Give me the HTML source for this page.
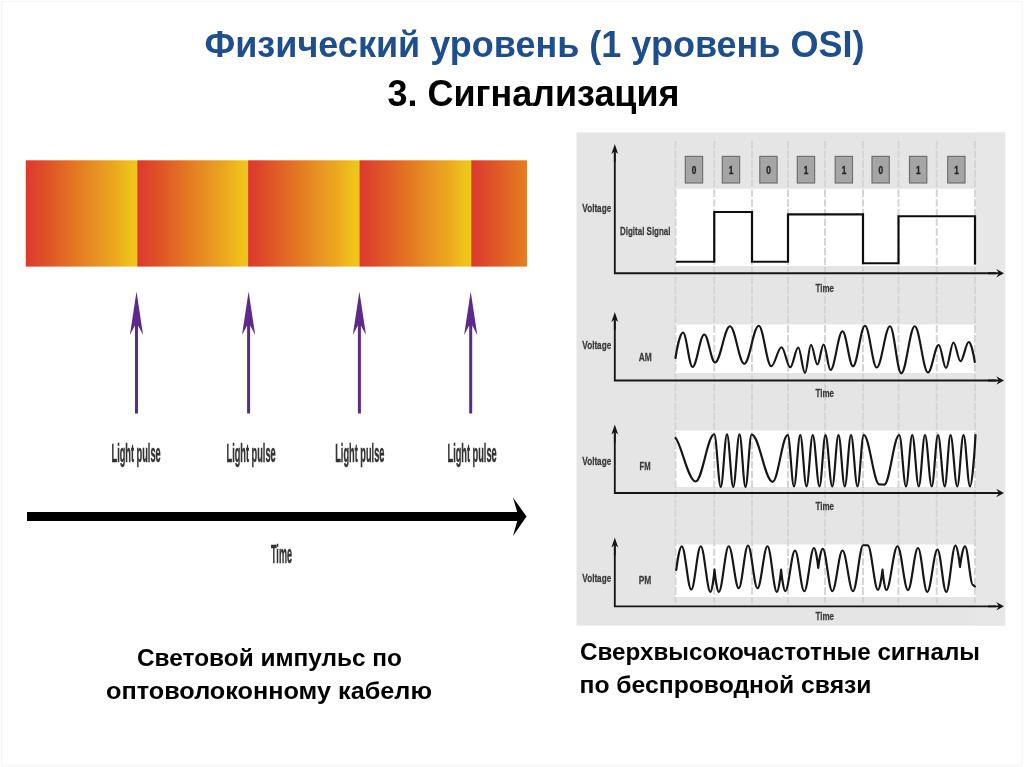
<!DOCTYPE html>
<html lang="ru">
<head>
<meta charset="utf-8">
<title>Физический уровень (1 уровень OSI) — 3. Сигнализация</title>
<style>
html,body{margin:0;padding:0;background:#fff;}
body{width:1024px;height:767px;position:relative;overflow:hidden;font-family:"Liberation Sans",sans-serif;}
</style>
</head>
<body>
<svg width="1024" height="767" viewBox="0 0 1024 767" style="position:absolute;left:0;top:0;font-family:'Liberation Sans',sans-serif;font-weight:bold">
<defs>
<linearGradient id="g" x1="0" x2="1" y1="0" y2="0"><stop offset="0" stop-color="#dd3a2b"/><stop offset="0.09" stop-color="#dd442a"/><stop offset="0.5" stop-color="#e57f22"/><stop offset="0.78" stop-color="#eba61f"/><stop offset="0.94" stop-color="#efc21b"/><stop offset="1" stop-color="#f0c71a"/></linearGradient>
<linearGradient id="g2" x1="0" x2="1" y1="0" y2="0"><stop offset="0" stop-color="#dd3a2b"/><stop offset="0.18" stop-color="#dd442a"/><stop offset="1" stop-color="#e57f22"/></linearGradient>
<path id="pa" d="M0 0L6.6 43.5L1.5 34V122H-1.5V34L-6.6 43.5Z" fill="#5b2a8a"/>
<path id="ya" d="M0 0L3.4 10.2L0.9 8.2V18H-0.9V8.2L-3.4 10.2Z" fill="#181818"/>
<path id="xa" d="M0 0L-7.8 -4.3L-5.6 -0.92H-16V0.92H-5.6L-7.8 4.3Z" fill="#181818"/>
<filter id="bl" x="0" y="0" width="1024" height="767" filterUnits="userSpaceOnUse"><feGaussianBlur stdDeviation="0.45"/></filter>
</defs>
<rect x="1.6" y="1.6" width="1020.4" height="763.8" fill="none" stroke="#f6f6f6" stroke-width="1.4"/>
<g filter="url(#bl)">
<rect x="25.75" y="160.3" width="111.85" height="106.3" fill="url(#g)"/>
<rect x="137.3" y="160.3" width="111.1" height="106.3" fill="url(#g)"/>
<rect x="248.1" y="160.3" width="111.7" height="106.3" fill="url(#g)"/>
<rect x="359.5" y="160.3" width="112.05" height="106.3" fill="url(#g)"/>
<rect x="471.25" y="160.3" width="55.75" height="106.3" fill="url(#g2)"/>
<use href="#pa" x="136.5" y="291.5"/>
<use href="#pa" x="248.6" y="291.5"/>
<use href="#pa" x="359.4" y="291.5"/>
<use href="#pa" x="470.7" y="291.5"/>
<text x="111.5" y="461.6" font-size="26.6" fill="#333" stroke="#333" stroke-width="0.5" textLength="49.2" lengthAdjust="spacingAndGlyphs">Light pulse</text>
<text x="226.5" y="461.6" font-size="26.6" fill="#333" stroke="#333" stroke-width="0.5" textLength="49.2" lengthAdjust="spacingAndGlyphs">Light pulse</text>
<text x="335.2" y="461.6" font-size="26.6" fill="#333" stroke="#333" stroke-width="0.5" textLength="49.2" lengthAdjust="spacingAndGlyphs">Light pulse</text>
<text x="447.5" y="461.6" font-size="26.6" fill="#333" stroke="#333" stroke-width="0.5" textLength="49.2" lengthAdjust="spacingAndGlyphs">Light pulse</text>
<rect x="27" y="512" width="492" height="9" fill="#000"/>
<path d="M526.5 516.4L513 497.5L518.5 516.4L513 536Z" fill="#000"/>
<text x="271" y="563.2" font-size="26.6" fill="#333" stroke="#333" stroke-width="0.5" textLength="21" lengthAdjust="spacingAndGlyphs">Time</text>
<rect x="576.5" y="132.5" width="428.7" height="493" fill="#e5e5e5"/>
<rect x="975.5" y="132.5" width="29.7" height="493" fill="#e7e7e7"/>
<rect x="675.5" y="188.75" width="300" height="77.25" fill="#fff"/>
<rect x="675.5" y="324.5" width="300" height="48.5" fill="#fff"/>
<rect x="675.5" y="430.6" width="300" height="56.4" fill="#fff"/>
<rect x="675.5" y="544.5" width="300" height="52.5" fill="#fff"/>
<path d="M675.5 141V603" stroke="#d5d5d5" stroke-width="2" stroke-dasharray="7.5 2.2" fill="none"/>
<path d="M714.25 141V603" stroke="#d5d5d5" stroke-width="2" stroke-dasharray="7.5 2.2" fill="none"/>
<path d="M752 141V603" stroke="#d5d5d5" stroke-width="2" stroke-dasharray="7.5 2.2" fill="none"/>
<path d="M788 141V603" stroke="#d5d5d5" stroke-width="2" stroke-dasharray="7.5 2.2" fill="none"/>
<path d="M825 141V603" stroke="#d5d5d5" stroke-width="2" stroke-dasharray="7.5 2.2" fill="none"/>
<path d="M863 141V603" stroke="#d5d5d5" stroke-width="2" stroke-dasharray="7.5 2.2" fill="none"/>
<path d="M898.5 141V603" stroke="#d5d5d5" stroke-width="2" stroke-dasharray="7.5 2.2" fill="none"/>
<path d="M936.75 141V603" stroke="#d5d5d5" stroke-width="2" stroke-dasharray="7.5 2.2" fill="none"/>
<path d="M975 141V603" stroke="#d5d5d5" stroke-width="2" stroke-dasharray="7.5 2.2" fill="none"/>
<rect x="685.3" y="156.4" width="17.3" height="26.6" fill="#a5a5a5" stroke="#707070" stroke-width="1.2"/>
<text x="691.75" y="173.6" font-size="10" fill="#262626" stroke="#262626" stroke-width="0.35" textLength="4.6" lengthAdjust="spacingAndGlyphs">0</text>
<rect x="722.3" y="156.4" width="17.3" height="26.6" fill="#a5a5a5" stroke="#707070" stroke-width="1.2"/>
<text x="728.75" y="173.6" font-size="10" fill="#262626" stroke="#262626" stroke-width="0.35" textLength="4.6" lengthAdjust="spacingAndGlyphs">1</text>
<rect x="759.8" y="156.4" width="17.3" height="26.6" fill="#a5a5a5" stroke="#707070" stroke-width="1.2"/>
<text x="766.25" y="173.6" font-size="10" fill="#262626" stroke="#262626" stroke-width="0.35" textLength="4.6" lengthAdjust="spacingAndGlyphs">0</text>
<rect x="797.3" y="156.4" width="17.3" height="26.6" fill="#a5a5a5" stroke="#707070" stroke-width="1.2"/>
<text x="803.75" y="173.6" font-size="10" fill="#262626" stroke="#262626" stroke-width="0.35" textLength="4.6" lengthAdjust="spacingAndGlyphs">1</text>
<rect x="835.2" y="156.4" width="17.3" height="26.6" fill="#a5a5a5" stroke="#707070" stroke-width="1.2"/>
<text x="841.65" y="173.6" font-size="10" fill="#262626" stroke="#262626" stroke-width="0.35" textLength="4.6" lengthAdjust="spacingAndGlyphs">1</text>
<rect x="872" y="156.4" width="17.3" height="26.6" fill="#a5a5a5" stroke="#707070" stroke-width="1.2"/>
<text x="878.45" y="173.6" font-size="10" fill="#262626" stroke="#262626" stroke-width="0.35" textLength="4.6" lengthAdjust="spacingAndGlyphs">0</text>
<rect x="909.5" y="156.4" width="17.3" height="26.6" fill="#a5a5a5" stroke="#707070" stroke-width="1.2"/>
<text x="915.95" y="173.6" font-size="10" fill="#262626" stroke="#262626" stroke-width="0.35" textLength="4.6" lengthAdjust="spacingAndGlyphs">1</text>
<rect x="947.7" y="156.4" width="17.3" height="26.6" fill="#a5a5a5" stroke="#707070" stroke-width="1.2"/>
<text x="954.15" y="173.6" font-size="10" fill="#262626" stroke="#262626" stroke-width="0.35" textLength="4.6" lengthAdjust="spacingAndGlyphs">1</text>
<use href="#ya" x="614.8" y="143.9"/>
<path d="M614.8 152.5V273.25H996" stroke="#181818" stroke-width="1.85" fill="none"/>
<use href="#xa" x="1004" y="273.25"/>
<use href="#ya" x="614.8" y="311.9"/>
<path d="M614.8 320.5V380.5H996" stroke="#181818" stroke-width="1.85" fill="none"/>
<use href="#xa" x="1004" y="380.5"/>
<use href="#ya" x="614.8" y="424.4"/>
<path d="M614.8 433V493H996" stroke="#181818" stroke-width="1.85" fill="none"/>
<use href="#xa" x="1004" y="493"/>
<use href="#ya" x="614.8" y="537.4"/>
<path d="M614.8 546V606.3H996" stroke="#181818" stroke-width="1.85" fill="none"/>
<use href="#xa" x="1004" y="606.3"/>
<text x="582.3" y="212.26" font-size="11.2" fill="#3c3c3c" stroke="#3c3c3c" stroke-width="0.28" textLength="28.9" lengthAdjust="spacingAndGlyphs">Voltage</text>
<text x="582.3" y="349.26" font-size="11.2" fill="#3c3c3c" stroke="#3c3c3c" stroke-width="0.28" textLength="28.9" lengthAdjust="spacingAndGlyphs">Voltage</text>
<text x="582.3" y="464.76" font-size="11.2" fill="#3c3c3c" stroke="#3c3c3c" stroke-width="0.28" textLength="28.9" lengthAdjust="spacingAndGlyphs">Voltage</text>
<text x="582.3" y="582.26" font-size="11.2" fill="#3c3c3c" stroke="#3c3c3c" stroke-width="0.28" textLength="28.9" lengthAdjust="spacingAndGlyphs">Voltage</text>
<text x="620" y="235.26" font-size="11.2" fill="#3c3c3c" stroke="#3c3c3c" stroke-width="0.28" textLength="50.5" lengthAdjust="spacingAndGlyphs">Digital Signal</text>
<text x="638.75" y="361.01" font-size="11.2" fill="#3c3c3c" stroke="#3c3c3c" stroke-width="0.28" textLength="13" lengthAdjust="spacingAndGlyphs">AM</text>
<text x="639.5" y="469.76" font-size="11.2" fill="#3c3c3c" stroke="#3c3c3c" stroke-width="0.28" textLength="11" lengthAdjust="spacingAndGlyphs">FM</text>
<text x="638.75" y="584.01" font-size="11.2" fill="#3c3c3c" stroke="#3c3c3c" stroke-width="0.28" textLength="12.5" lengthAdjust="spacingAndGlyphs">PM</text>
<text x="815.5" y="291.51" font-size="11.2" fill="#3c3c3c" stroke="#3c3c3c" stroke-width="0.28" textLength="18.5" lengthAdjust="spacingAndGlyphs">Time</text>
<text x="815.5" y="397.26" font-size="11.2" fill="#3c3c3c" stroke="#3c3c3c" stroke-width="0.28" textLength="18.5" lengthAdjust="spacingAndGlyphs">Time</text>
<text x="815.5" y="509.51" font-size="11.2" fill="#3c3c3c" stroke="#3c3c3c" stroke-width="0.28" textLength="18.5" lengthAdjust="spacingAndGlyphs">Time</text>
<text x="815.5" y="620.26" font-size="11.2" fill="#3c3c3c" stroke="#3c3c3c" stroke-width="0.28" textLength="18.5" lengthAdjust="spacingAndGlyphs">Time</text>
<path d="M676 261.75H714.25V212H752V261.75H788V214.4H863V263.25H898.5V216.25H975V264.5" stroke="#111" stroke-width="2.2" fill="none" stroke-linejoin="miter"/>
<path d="M675.5 358C676.85 348.82 680.27 332.5 683 332.5C686.46 332.5 689.04 367 692.5 367C696.78 367 699.97 334.5 704.25 334.5C708.17 334.5 711.08 362.5 715 362.5C720.46 362.5 724.54 326.25 730 326.25C735.19 326.25 739.06 363.75 744.25 363.75C749.53 363.75 753.47 325.75 758.75 325.75C763.3 325.75 766.7 366.25 771.25 366.25C774.98 366.25 777.77 347.25 781.5 347.25C784.69 347.25 787.06 367.25 790.25 367.25C793.16 367.25 795.34 347.5 798.25 347.5C800.71 347.5 802.54 373 805 373C807.19 373 808.81 344.75 811 344.75C813.33 344.75 815.07 364.5 817.4 364.5C819.66 364.5 821.34 344.5 823.6 344.5C826.11 344.5 827.99 370 830.5 370C834.87 370 838.13 331.25 842.5 331.25C846.32 331.25 849.18 366.25 853 366.25C857.37 366.25 860.63 325.75 865 325.75C869.28 325.75 872.47 367.5 876.75 367.5C881.58 367.5 885.17 326.25 890 326.25C894.1 326.25 897.15 373.25 901.25 373.25C906.17 373.25 909.83 326.25 914.75 326.25C919.58 326.25 923.17 372.5 928 372.5C931.92 372.5 934.83 345 938.75 345C941.39 345 943.36 368 946 368C948.73 368 950.77 342.5 953.5 342.5C956.05 342.5 957.95 361.25 960.5 361.25C963.5 361.25 965.75 342 968.75 342C970.94 342 973.67 354.8 974.75 362" stroke="#141414" stroke-width="2.15" fill="none" stroke-linejoin="round" stroke-linecap="round"/>
<path d="M675.6 438C681.2 443.65 688.32 481.5 695.6 481.5C702.39 481.5 707.46 434.25 714.25 434.25C716.62 434.25 718.38 487 720.75 487C723.03 487 724.72 434.25 727 434.25C729.28 434.25 730.97 487 733.25 487C735.53 487 737.22 434.25 739.5 434.25C741.69 434.25 743.31 487 745.5 487C747.72 487 749.38 434.5 751.6 434.5C759.25 434.5 764.95 481.8 772.6 481.8C778.12 481.8 782.23 435 787.75 435C790.03 435 791.72 486.5 794 486.5C796.28 486.5 797.97 435 800.25 435C802.53 435 804.22 486.5 806.5 486.5C808.78 486.5 810.47 435 812.75 435C815.21 435 817.04 486.5 819.5 486.5C821.69 486.5 823.31 435 825.5 435C827.96 435 829.79 486.5 832.25 486.5C834.53 486.5 836.22 435 838.5 435C840.78 435 842.47 486.5 844.75 486.5C847.03 486.5 848.72 435 851 435C853.37 435 855.13 486.5 857.5 486.5C859.78 486.5 861.47 435 863.75 435C869.41 435 873.64 484.3 879.3 484.3C881.12 484.3 882.48 484.6 884.3 484.6C889.74 484.6 893.81 435 899.25 435C901.71 435 903.54 486.5 906 486.5C908.28 486.5 909.97 435 912.25 435C914.62 435 916.38 486.5 918.75 486.5C921.03 486.5 922.72 435 925 435C927.46 435 929.29 486.5 931.75 486.5C934.03 486.5 935.72 435 938 435C940.46 435 942.29 486.5 944.75 486.5C946.84 486.5 948.41 435 950.5 435C952.96 435 954.79 486.5 957.25 486.5C959.53 486.5 961.22 435 963.5 435C965.87 435 967.63 486.5 970 486.5C972 486.5 974.51 453.54 975.5 435" stroke="#141414" stroke-width="2.15" fill="none" stroke-linejoin="round" stroke-linecap="round"/>
<path d="M676.25 570C677.24 561.45 679.75 546.25 681.75 546.25C685.21 546.25 687.79 589.5 691.25 589.5C694.71 589.5 697.29 546.25 700.75 546.25C704.3 546.25 706.95 592 710.5 592C711.96 592 713.78 577.6 714.5 569.5C715.26 577.6 717.2 592 718.75 592C722.39 592 725.11 546.25 728.75 546.25C732.39 546.25 735.11 588.25 738.75 588.25C742.12 588.25 744.63 545.5 748 545.5C751.46 545.5 754.04 588.25 757.5 588.25C761.14 588.25 763.86 546.25 767.5 546.25C770.92 546.25 773.48 592 776.9 592C778.43 592 780.34 577.6 781.1 569.5C781.85 577.33 783.74 591.25 785.25 591.25C788.8 591.25 791.45 550.5 795 550.5C798.37 550.5 800.88 591.25 804.25 591.25C807.8 591.25 810.45 548 814 548C815.55 548 817.49 560.8 818.25 568C819.06 561.07 821.11 548.75 822.75 548.75C826.21 548.75 828.79 591.25 832.25 591.25C835.98 591.25 838.77 550.5 842.5 550.5C846.32 550.5 849.18 591.25 853 591.25C856.71 591.25 859.49 545.2 863.2 545.2C864.88 545.2 866.12 545.4 867.8 545.4C871.51 545.4 874.29 590 878 590C879.64 590 881.69 576.88 882.5 569.5C883.17 576.88 884.88 590 886.25 590C890.35 590 893.4 546.25 897.5 546.25C901.32 546.25 904.18 590 908 590C911.64 590 914.36 548 918 548C921.37 548 923.88 592 927.25 592C930.98 592 933.77 549.5 937.5 549.5C940.69 549.5 943.06 592 946.25 592C949.62 592 952.13 545.5 955.5 545.5C957.14 545.5 959.19 559.26 960 567C960.9 559.53 963.18 546.25 965 546.25C967.91 546.25 970.09 585 973 585C973.73 585 974.27 586.5 975 586.5" stroke="#141414" stroke-width="2.15" fill="none" stroke-linejoin="round" stroke-linecap="round"/>
</g>
<text x="204.5" y="56.6" font-size="36.5" fill="#1f4e8c" textLength="660" lengthAdjust="spacingAndGlyphs">Физический уровень (1 уровень OSI)</text>
<text x="387.5" y="105.8" font-size="36.5" fill="#000" textLength="292" lengthAdjust="spacingAndGlyphs">3. Сигнализация</text>
<text x="137" y="665.5" font-size="24.6" fill="#000" textLength="265" lengthAdjust="spacingAndGlyphs">Световой импульс по</text>
<text x="106" y="698.75" font-size="24.6" fill="#000" textLength="326" lengthAdjust="spacingAndGlyphs">оптоволоконному кабелю</text>
<text x="580" y="659.5" font-size="24.6" fill="#000" textLength="400" lengthAdjust="spacingAndGlyphs">Сверхвысокочастотные сигналы</text>
<text x="579.5" y="692.5" font-size="24.6" fill="#000" textLength="292" lengthAdjust="spacingAndGlyphs">по беспроводной связи</text>
</svg>
</body>
</html>
